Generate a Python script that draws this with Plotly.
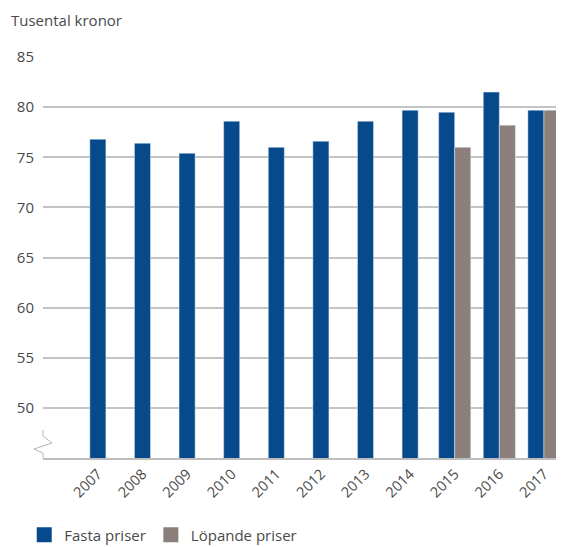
import plotly.graph_objects as go

# Data
years = ['2007', '2008', '2009', '2010', '2011', '2012', '2013', '2014', '2015', '2016', '2017']
fasta = [76.8, 76.4, 75.4, 78.6, 76.0, 76.6, 78.6, 79.7, 79.5, 81.5, 79.7]
lopande = [None, None, None, None, None, None, None, None, 76.0, 78.2, 79.7]
y_ticks = [50, 55, 60, 65, 70, 75, 80, 85]

blue = '#064a8c'
grey = '#8b7f7b'
text_col = '#4a4a4a'
font = 'Open Sans, sans-serif'

bw = 0.36
# single bar is centred; pairs are centred on the category
off_fasta = [-bw if v is not None else -bw / 2 for v in lopande]
off_lop = [0 for v in lopande]

fig = go.Figure()
fig.add_bar(x=years, y=fasta, name='Fasta priser', marker_color=blue,
            width=bw, offset=off_fasta, showlegend=False)
fig.add_bar(x=years, y=lopande, name='Löpande priser', marker_color=grey,
            width=bw, offset=off_lop, showlegend=False)
# legend swatches
for nm, col in [('Fasta priser', blue), ('Löpande priser', grey)]:
    fig.add_scatter(x=[None], y=[None], mode='markers', name=nm,
                    marker=dict(symbol='square', size=15, color=col))

# page body has an 8px margin, so the figure sits 8px in from the corner
fig.update_layout(
    width=556, height=539,
    margin=dict(l=35, r=0, t=49, b=89, autoexpand=False),
    barmode='overlay',
    plot_bgcolor='white', paper_bgcolor='white',
    font=dict(family=font, size=15, color=text_col),
    showlegend=True,
    legend=dict(orientation='h', x=-0.036, xanchor='left', y=-0.192, yanchor='middle',
                font=dict(size=15, color=text_col), itemwidth=30),
    annotations=[dict(text='Tusental kronor', xref='paper', yref='paper',
                      x=-0.065, y=1.092, xanchor='left', yanchor='middle',
                      showarrow=False, font=dict(size=15, color=text_col))],
    shapes=[dict(type='path', xref='paper', yref='paper',
                 path='M 0,0.0698 L 0,0.0549 L 0.0173,0.0374 L -0.0173,0.0224 L 0,0.0125 L 0,0',
                 line=dict(color='#b5b5b5', width=1))],
)

fig.update_xaxes(type='category', range=[-1.23, 10.45], showgrid=False, automargin=False,
                 showline=True, linecolor='#bdbdbd', linewidth=1.5,
                 tickangle=-45, ticks='', tickfont=dict(size=14.5, color=text_col))
fig.update_yaxes(range=[45, 85], tickvals=y_ticks, showgrid=True, automargin=False,
                 gridcolor='#c4c4c4', gridwidth=1.5, zeroline=False,
                 showline=False, ticks='', ticklabelstandoff=8,
                 tickfont=dict(size=15, color=text_col))

fig.write_html('out.html')
